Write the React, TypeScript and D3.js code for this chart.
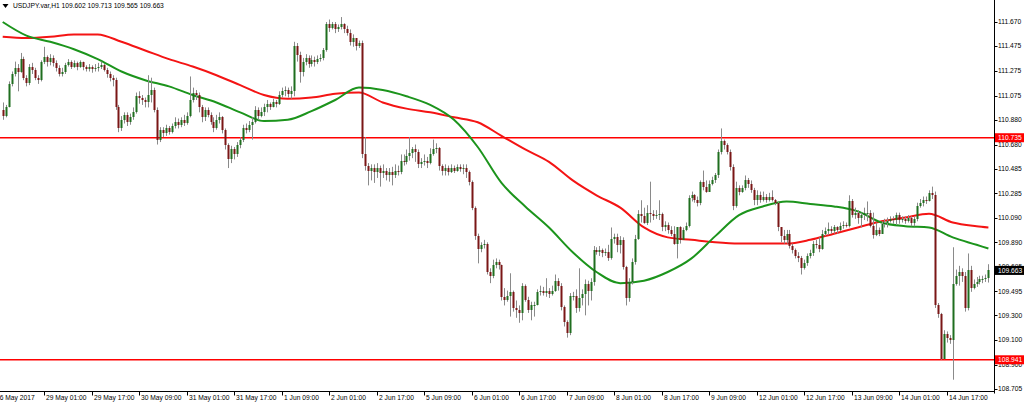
import React from 'react';
import * as d3 from 'd3';

const firstOpen = 110.96;
const closes = [
110.91,110.98,111.17,111.25,111.30,111.27,111.37,111.22,111.18,111.31,
111.28,111.22,111.20,111.35,111.39,111.35,111.38,111.34,111.30,111.25,
111.27,111.32,111.35,111.31,111.34,111.31,111.35,111.31,111.29,111.31,
111.29,111.30,111.31,111.32,111.28,111.25,111.22,111.20,110.98,110.81,
110.88,110.92,110.86,110.90,110.94,111.07,111.06,111.04,111.02,111.08,
111.12,110.96,110.72,110.80,110.77,110.81,110.78,110.83,110.86,110.84,
110.88,110.85,110.91,111.04,111.10,111.08,110.98,110.90,110.96,110.92,
110.86,110.81,110.88,110.90,110.80,110.68,110.56,110.64,110.60,110.68,
110.72,110.81,110.80,110.84,110.86,110.96,110.91,110.94,110.98,111.01,
110.98,111.02,111.01,111.08,111.11,111.12,111.09,111.11,111.48,111.40,
111.27,111.35,111.38,111.33,111.36,111.35,111.37,111.38,111.44,111.65,
111.62,111.65,111.61,111.63,111.65,111.61,111.58,111.51,111.54,111.48,
111.50,110.60,110.51,110.47,110.49,110.46,110.49,110.45,110.47,110.43,
110.46,110.43,110.47,110.46,110.55,110.54,110.59,110.61,110.64,110.62,
110.52,110.54,110.55,110.53,110.60,110.64,110.65,110.51,110.47,110.49,
110.46,110.49,110.47,110.50,110.48,110.49,110.46,110.38,110.17,109.94,
109.84,109.87,109.88,109.65,109.62,109.71,109.73,109.71,109.45,109.42,
109.46,109.49,109.36,109.34,109.32,109.54,109.42,109.34,109.38,109.38,
109.49,109.50,109.48,109.50,109.47,109.50,109.58,109.54,109.37,109.25,
109.16,109.46,109.46,109.36,109.44,109.47,109.55,109.50,109.57,109.83,
109.81,109.83,109.80,109.81,109.76,109.92,109.93,109.87,109.91,109.69,
109.44,109.57,109.73,109.92,110.12,110.10,110.05,110.13,110.12,110.10,
110.11,110.12,110.01,110.03,109.99,109.96,109.88,110.01,109.91,109.99,
110.02,110.25,110.27,110.23,110.21,110.38,110.34,110.30,110.36,110.39,
110.43,110.62,110.71,110.68,110.62,110.50,110.18,110.33,110.30,110.33,
110.39,110.36,110.31,110.23,110.27,110.23,110.26,110.23,110.26,110.23,
110.21,110.01,109.94,109.91,109.96,109.86,109.83,109.78,109.76,109.68,
109.72,109.78,109.80,109.88,109.87,109.84,109.96,109.98,110.00,109.98,
110.01,109.99,110.02,110.03,110.02,110.22,110.11,110.13,110.09,110.11,
110.13,110.13,110.02,109.95,109.99,109.96,110.04,110.05,110.06,110.08,
110.07,110.11,110.07,110.08,110.06,110.09,110.05,110.08,110.18,110.21,
110.23,110.22,110.29,110.27,109.38,109.31,108.95,109.15,109.12,109.10,
109.55,109.62,109.65,109.62,109.36,109.67,109.52,109.55,109.57,109.59,
109.59,109.602,109.663
];
const highs = [
111.02,111.00,111.19,111.27,111.35,111.33,111.42,111.39,111.24,111.33,
111.34,111.30,111.24,111.36,111.47,111.40,111.41,111.40,111.36,111.32,
111.30,111.34,111.37,111.36,111.36,111.35,111.36,111.35,111.32,111.33,
111.32,111.33,111.34,111.35,111.33,111.30,111.27,111.24,111.22,111.00,
110.91,110.94,110.94,110.93,110.98,111.10,111.11,111.08,111.06,111.24,
111.22,111.14,110.98,110.82,110.82,110.84,110.83,110.85,110.90,110.89,
110.90,110.92,110.94,111.23,111.14,111.12,111.10,111.00,110.98,110.98,
110.94,110.90,110.92,110.94,110.91,110.81,110.69,110.67,110.66,110.70,
110.74,110.84,110.85,110.87,110.90,110.99,110.98,110.98,111.01,111.04,
111.02,111.05,111.04,111.11,111.14,111.15,111.14,111.15,111.51,111.50,
111.43,111.38,111.41,111.40,111.40,111.39,111.40,111.41,111.46,111.67,
111.69,111.67,111.67,111.65,111.71,111.66,111.64,111.61,111.57,111.54,
111.52,111.52,110.74,110.53,110.52,110.52,110.53,110.51,110.52,110.49,
110.49,110.50,110.52,110.51,110.60,110.60,110.64,110.74,110.66,110.68,
110.64,110.57,110.60,110.58,110.65,110.72,110.69,110.66,110.52,110.52,
110.51,110.52,110.51,110.52,110.52,110.52,110.52,110.47,110.39,110.18,
109.96,109.89,109.91,109.89,109.68,109.75,109.76,109.75,109.71,109.52,
109.50,109.64,109.50,109.42,109.38,109.56,109.55,109.45,109.41,109.41,
109.51,109.54,109.53,109.60,109.52,109.54,109.63,109.60,109.56,109.38,
109.26,109.48,109.49,109.51,109.68,109.51,109.59,109.58,109.60,109.86,
109.85,109.86,109.84,109.84,109.87,110.01,109.96,109.96,109.94,109.93,
109.70,109.60,109.76,109.95,110.15,110.23,110.17,110.19,110.38,110.15,
110.15,110.23,110.13,110.06,110.05,110.02,110.02,110.01,110.02,110.01,
110.05,110.27,110.30,110.28,110.26,110.39,110.47,110.39,110.39,110.42,
110.45,110.64,110.81,110.72,110.69,110.64,110.52,110.38,110.35,110.35,
110.43,110.41,110.39,110.33,110.31,110.30,110.30,110.28,110.29,110.31,
110.24,110.22,110.01,109.99,109.99,109.99,109.88,109.84,109.81,109.78,
109.75,109.80,109.83,109.90,109.91,109.93,109.99,110.01,110.05,110.02,
110.03,110.02,110.05,110.06,110.05,110.27,110.24,110.17,110.15,110.13,
110.17,110.22,110.15,110.13,110.05,110.01,110.06,110.08,110.09,110.10,
110.10,110.13,110.13,110.10,110.10,110.11,110.10,110.10,110.21,110.24,
110.26,110.26,110.31,110.34,110.30,109.40,109.32,109.18,109.17,109.14,
109.85,109.67,109.70,109.68,109.65,109.80,109.70,109.59,109.61,109.62,
109.62,109.63,109.713
];
const lows = [
110.88,110.90,110.98,111.15,111.23,111.11,111.26,111.20,111.15,111.16,
111.25,111.20,111.17,111.19,111.33,111.31,111.32,111.31,111.27,111.23,
111.23,111.25,111.31,111.29,111.30,111.28,111.30,111.28,111.27,111.27,
111.26,111.27,111.27,111.29,111.27,111.22,111.19,111.15,110.96,110.78,
110.79,110.85,110.83,110.84,110.88,110.93,111.01,111.00,110.98,110.98,
111.02,110.94,110.68,110.70,110.74,110.75,110.76,110.77,110.81,110.81,
110.82,110.83,110.84,110.90,111.02,111.04,110.94,110.86,110.87,110.90,
110.84,110.78,110.80,110.85,110.77,110.64,110.49,110.53,110.56,110.58,
110.65,110.70,110.77,110.78,110.72,110.85,110.88,110.90,110.91,110.94,
110.96,110.98,110.98,111.00,111.06,111.07,111.06,111.05,111.07,111.35,
111.18,111.23,111.32,111.30,111.31,111.31,111.33,111.35,111.36,111.43,
111.59,111.61,111.58,111.59,111.61,111.58,111.56,111.48,111.47,111.44,
111.46,110.57,110.47,110.35,110.39,110.37,110.41,110.34,110.41,110.39,
110.38,110.35,110.41,110.43,110.44,110.51,110.52,110.55,110.57,110.54,
110.49,110.49,110.51,110.49,110.52,110.59,110.61,110.47,110.43,110.43,
110.43,110.45,110.45,110.46,110.46,110.44,110.41,110.35,110.15,109.91,
109.72,109.81,109.84,109.63,109.56,109.60,109.68,109.67,109.42,109.38,
109.41,109.29,109.33,109.28,109.24,109.26,109.41,109.32,109.26,109.29,
109.38,109.46,109.46,109.45,109.44,109.46,109.49,109.50,109.34,109.21,
109.12,109.14,109.42,109.32,109.33,109.38,109.30,109.38,109.42,109.54,
109.79,109.78,109.77,109.78,109.74,109.75,109.88,109.81,109.80,109.67,
109.38,109.41,109.55,109.71,109.91,110.05,110.04,110.03,110.05,110.07,
110.08,110.07,109.98,109.98,109.96,109.94,109.87,109.76,109.88,109.94,
109.98,110.01,110.22,110.21,110.18,110.19,110.31,110.29,110.31,110.35,
110.37,110.41,110.60,110.64,110.60,110.47,110.15,110.17,110.27,110.29,
110.31,110.33,110.29,110.19,110.19,110.21,110.22,110.21,110.22,110.22,
110.19,109.98,109.89,109.88,109.88,109.84,109.80,109.76,109.73,109.63,
109.67,109.70,109.76,109.78,109.84,109.81,109.83,109.94,109.95,109.96,
109.96,109.96,109.98,110.00,110.01,110.01,110.09,110.08,110.04,110.01,
110.07,110.06,110.01,109.92,109.94,109.94,109.96,110.01,110.01,110.05,
110.04,110.03,110.04,110.05,110.04,110.05,110.02,110.02,110.06,110.17,
110.18,110.20,110.22,110.24,109.36,109.28,108.941,108.945,109.08,109.07,
108.78,109.54,109.54,109.57,109.33,109.34,109.49,109.51,109.53,109.55,
109.56,109.57,109.565
];

const maBars = [0,8,16,24,32,40,48,56,64,72,80,88,96,104,112,120,128,136,144,152,160,168,176,184,192,200,208,216,224,232,240,248,256,264,272,280,288,296,304,312,320,328,332];
const maFast = [111.67,111.56,111.51,111.45,111.37,111.27,111.20,111.15,111.08,111.02,110.94,110.87,110.88,110.95,111.04,111.14,111.12,111.07,111.00,110.88,110.66,110.37,110.18,110.01,109.81,109.65,109.56,109.58,109.65,109.76,109.94,110.11,110.18,110.22,110.20,110.18,110.14,110.05,110.02,110.01,109.93,109.87,109.84];
const maSlow = [111.55,111.54,111.55,111.57,111.57,111.51,111.44,111.37,111.31,111.24,111.16,111.08,111.05,111.06,111.09,111.10,111.02,110.97,110.94,110.90,110.86,110.75,110.64,110.54,110.39,110.27,110.17,110.01,109.93,109.91,109.89,109.88,109.88,109.88,109.91,109.96,110.01,110.06,110.09,110.12,110.05,110.02,110.01];

const priceTicks = ["111.670","111.475","111.275","111.075","110.880","110.680","110.485","110.285","110.090","109.890","109.695","109.495","109.300","109.100","108.900","108.705"];
const timeLabels = ["26 May 2017","29 May 01:00","29 May 17:00","30 May 09:00","31 May 01:00","31 May 17:00","1 Jun 09:00","2 Jun 01:00","2 Jun 17:00","5 Jun 09:00","6 Jun 01:00","6 Jun 17:00","7 Jun 09:00","8 Jun 01:00","8 Jun 17:00","9 Jun 09:00","12 Jun 01:00","12 Jun 17:00","13 Jun 09:00","14 Jun 01:00","14 Jun 17:00"];
const timeTickBars = [-3,14,30,46,62,78,94,110,126,142,158,174,190,206,222,238,254,270,286,302,318];
const levelLines = [110.735, 108.941];
const lastPrice = 109.663;
const titleText = "USDJPY.var,H1  109.602 109.713 109.565 109.663";

export default function App() {
  const W = 1024, H = 404;
  const axisX = 994.5, bottomY = 391.5;
  const x = d3.scaleLinear().domain([0, 332]).range([2.7, 988.4]);
  const y = d3.scaleLinear().domain([108.705, 111.670]).range([389, 22]);
  const font = "'Liberation Sans', Arial, sans-serif";
  const fs = 6.7;

  const fastLine = d3.line<number>().x((_, i) => x(maBars[i])).y(d => y(d)).curve(d3.curveMonotoneX)(maFast) || '';
  const slowLine = d3.line<number>().x((_, i) => x(maBars[i])).y(d => y(d)).curve(d3.curveMonotoneX)(maSlow) || '';

  const candles = closes.map((c, i) => {
    const o = i === 0 ? firstOpen : closes[i - 1];
    const hi = Math.max(highs[i], o, c);
    const lo = Math.min(lows[i], o, c);
    const cx = Math.round(x(i));
    const yTop = Math.round(y(Math.max(o, c)));
    const yBot = Math.round(y(Math.min(o, c)));
    const bull = c >= o;
    return (
      <g key={i}>
        <line x1={cx + 0.5} x2={cx + 0.5} y1={y(hi)} y2={y(lo)} stroke="#8a8a8a" strokeWidth={1} />
        <rect x={cx - 0.5} y={yTop} width={2} height={Math.max(1, yBot - yTop)} fill={bull ? '#1f6e1f' : '#7a1616'} />
      </g>
    );
  });

  return (
    <svg width={W} height={H} style={{ position: 'absolute', left: 0, top: 0, background: '#fff' }} fontFamily={font}>
      <defs>
        <clipPath id="plot"><rect x={0} y={0} width={axisX} height={bottomY} /></clipPath>
      </defs>
      <rect x={0} y={0} width={W} height={H} fill="#fff" />
      <g clipPath="url(#plot)">
        {levelLines.map((v, i) => (
          <line key={i} x1={0} x2={axisX} y1={y(v)} y2={y(v)} stroke="#ff0000" strokeWidth={1.5} />
        ))}
        <path d={slowLine} fill="none" stroke="#f41414" strokeWidth={2} />
        <path d={fastLine} fill="none" stroke="#1c941c" strokeWidth={2} />
        {candles}
      </g>
      <line x1={axisX} x2={axisX} y1={0} y2={bottomY + 2} stroke="#000" strokeWidth={1} />
      <line x1={0} x2={axisX} y1={bottomY} y2={bottomY} stroke="#000" strokeWidth={1} />
      {priceTicks.map((t, i) => (
        <g key={i}>
          <line x1={axisX} x2={axisX + 3} y1={Math.round(y(+t)) + 0.5} y2={Math.round(y(+t)) + 0.5} stroke="#000" />
          <text x={998} y={y(+t)} dy="0.35em" fontSize={fs} fill="#000">{t}</text>
        </g>
      ))}
      {levelLines.map((v, i) => (
        <g key={i}>
          <rect x={axisX + 0.5} y={y(v) - 4.5} width={W - axisX} height={9} fill="#ff0000" />
          <text x={998} y={y(v)} dy="0.35em" fontSize={fs} fill="#fff">{v.toFixed(3)}</text>
        </g>
      ))}
      <rect x={axisX + 0.5} y={y(lastPrice) - 4.5} width={W - axisX} height={9} fill="#000" />
      <text x={998} y={y(lastPrice)} dy="0.35em" fontSize={fs} fill="#fff">{lastPrice.toFixed(3)}</text>
      {timeLabels.map((t, i) => {
        const tx = Math.round(x(timeTickBars[i])) + 0.5;
        return (
          <g key={i}>
            <line x1={tx} x2={tx} y1={bottomY} y2={bottomY + 4} stroke="#000" />
            <text x={tx + 1.5} y={398} dy="0.35em" fontSize={fs} fill="#000">{t}</text>
          </g>
        );
      })}
      <path d="M2.5,4 L8.5,4 L5.5,8 Z" fill="#000" />
      <text x={13} y={6} dy="0.35em" fontSize={fs} fill="#000">{titleText}</text>
    </svg>
  );
}
